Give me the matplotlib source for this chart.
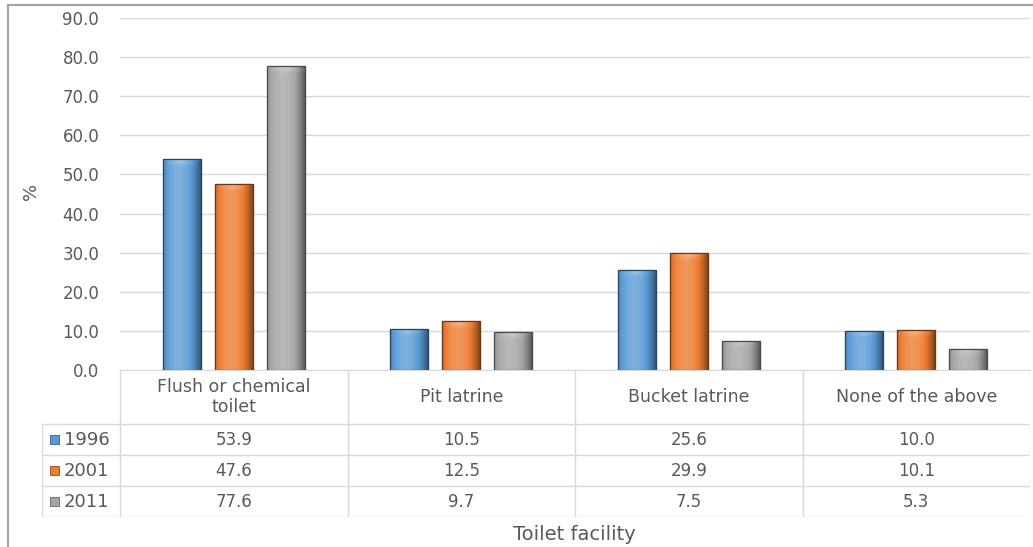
import numpy as np
import matplotlib
matplotlib.use('Agg')
import matplotlib.pyplot as plt
from matplotlib.colors import to_rgb
from matplotlib.patches import Rectangle
from matplotlib.lines import Line2D

plt.rcParams['font.family'] = ['DejaVu Sans']

categories = ['Flush or chemical\ntoilet', 'Pit latrine', 'Bucket latrine', 'None of the above']
years = ['1996', '2001', '2011']
share_1996 = [53.9, 10.5, 25.6, 10.0]
share_2001 = [47.6, 12.5, 29.9, 10.1]
share_2011 = [77.6, 9.7, 7.5, 5.3]
series = [share_1996, share_2001, share_2011]
colors = ['#5B9BD5', '#ED7D31', '#A5A5A5']

TEXT = '#595959'
GRID = '#D9D9D9'
W, H = 1033, 547


def box(x0, y0, x1, y1):
    # pixel box (top-left origin) -> figure fraction rect
    return [x0 / W, 1 - y1 / H, (x1 - x0) / W, (y1 - y0) / H]


def shaded(color, w_n=60, h_n=240, height=1.0, cap=2.0):
    base = np.array(to_rgb(color))
    t = np.linspace(0, 1, w_n)
    s = 0.20 - 0.65 * ((t - 0.42) / 0.58) ** 2
    y = np.linspace(0, height, h_n)
    top = np.clip(1 - (height - y) / cap, 0, 1)
    s2 = s[None, :] + 0.28 * top[:, None] * (1 - 2 * np.abs(t[None, :] - 0.5))
    s2 = np.clip(s2, -0.6, 0.6)[..., None]
    img = np.where(s2 > 0, base + (1 - base) * s2, base * (1 + s2))
    return np.clip(img, 0, 1)


fig = plt.figure(figsize=(W / 100, H / 100), dpi=100)

ax = fig.add_axes(box(120, 18, 1030, 370))
x = np.arange(len(categories))
bw = 38 / 227.5
step = 52 / 227.5
for i, (vals, c) in enumerate(zip(series, colors)):
    bars = ax.bar(x + (i - 1) * step, vals, bw, color=c, zorder=2,
                  edgecolor=np.array(to_rgb(c)) * 0.55, linewidth=0.8)
    for b in bars:
        bx, by = b.get_x(), b.get_y()
        bh = b.get_height()
        im = ax.imshow(shaded(c, height=bh), extent=[bx, bx + bw, by, by + bh],
                       origin='lower', aspect='auto', zorder=2.5,
                       interpolation='bilinear')
        im.set_clip_path(b)
        edge = Rectangle((bx, by), bw, bh, facecolor='none', zorder=3,
                         edgecolor=np.array(to_rgb(c)) * 0.45, linewidth=0.9)
        ax.add_patch(edge)

ax.set_xlim(-0.5, 3.5)
ax.set_ylim(0, 90)
ax.set_yticks(np.arange(0, 91, 10))
ax.set_yticklabels([f'{v:.1f}' for v in np.arange(0, 91, 10)])
ax.set_xticks([])
ax.yaxis.grid(True, color=GRID, linewidth=1)
ax.set_axisbelow(True)
for side in ['top', 'right', 'left']:
    ax.spines[side].set_visible(False)
ax.spines['bottom'].set_color(GRID)
ax.tick_params(axis='y', length=0, pad=15, labelcolor=TEXT, labelsize=12)
ax.set_ylabel('%', color=TEXT, fontsize=13)
ax.yaxis.set_label_coords(-0.088, 0.506)

# data table under the plot
tax = fig.add_axes(box(42, 370, 1030, 517))
left = -0.5 - 78 / 227.5
tax.set_xlim(left, 3.5)
tax.set_ylim(517, 370)
tax.axis('off')


def px(v):
    return -0.5 + (v - 120) / 227.5


row_edges = [424, 455, 486, 517]
tax.hlines(row_edges, left, 3.5, color=GRID, linewidth=1)
tax.vlines(np.arange(-0.5, 3.6, 1.0), 370, 517, color=GRID, linewidth=1)
tax.vlines([left], 424, 517, color=GRID, linewidth=1)

for xi, cat in zip(x, categories):
    tax.text(xi, 397, cat, ha='center', va='center', color=TEXT, fontsize=12.5,
             linespacing=1.2)

for r, (yr, vals, c) in enumerate(zip(years, series, colors)):
    yc = (row_edges[r] + row_edges[r + 1]) / 2
    tax.add_patch(Rectangle((px(50), yc - 4.5), px(59) - px(50), 9,
                            facecolor=c, edgecolor=np.array(to_rgb(c)) * 0.6,
                            linewidth=0.6))
    tax.text(px(64), yc, yr, ha='left', va='center', color=TEXT, fontsize=13)
    for xi, v in zip(x, vals):
        tax.text(xi, yc, f'{v:.1f}', ha='center', va='center', color=TEXT,
                 fontsize=12)

fig.text(574 / W, 1 - 535 / H, 'Toilet facility', ha='center', va='center',
         color=TEXT, fontsize=14)

# chart frame
fig.add_artist(Line2D([8 / W, 1], [1 - 5 / H, 1 - 5 / H], color='#A6A6A6',
                      linewidth=1.6, transform=fig.transFigure))
fig.add_artist(Line2D([8 / W, 8 / W], [0, 1 - 5 / H], color='#A6A6A6',
                      linewidth=1.6, transform=fig.transFigure))

fig.savefig('out.png', dpi=100)
